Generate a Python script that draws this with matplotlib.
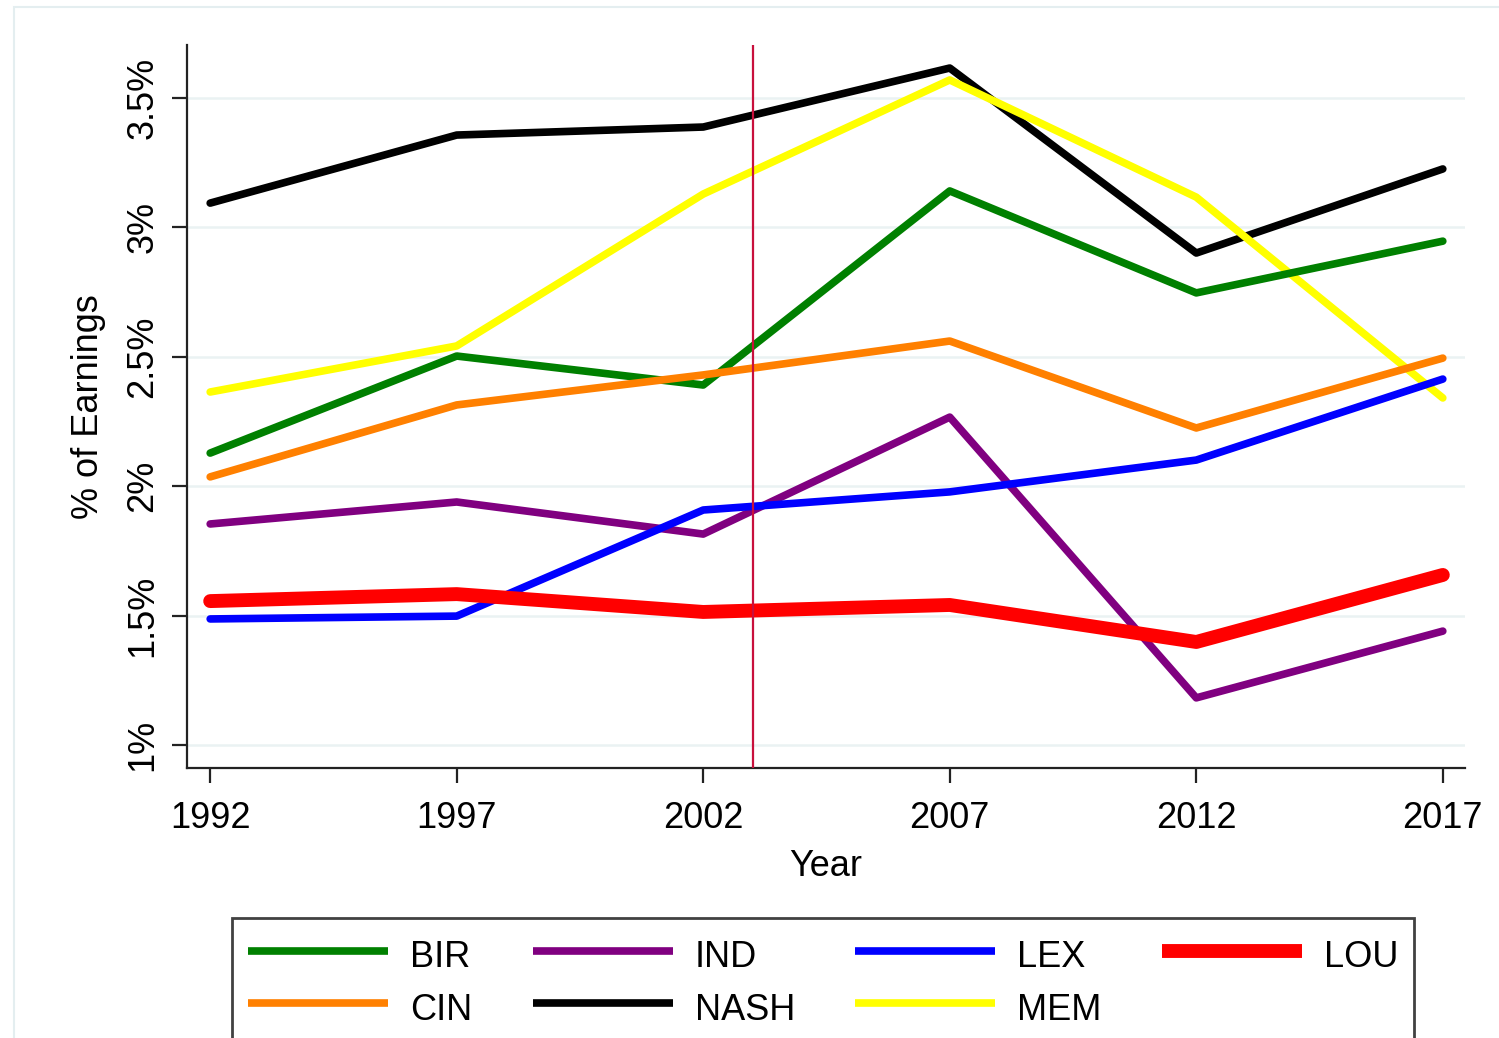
import matplotlib
matplotlib.use("Agg")
import matplotlib.pyplot as plt
from matplotlib.patches import Rectangle

plt.rcParams['font.family'] = ['Liberation Sans', 'DejaVu Sans']

years = [1992, 1997, 2002, 2007, 2012, 2017]
BIR = [2.128, 2.503, 2.391, 3.141, 2.747, 2.947]
IND = [1.854, 1.939, 1.815, 2.267, 1.182, 1.440]
LEX = [1.487, 1.498, 1.908, 1.978, 2.101, 2.414]
LOU = [1.556, 1.583, 1.514, 1.541, 1.398, 1.657]
CIN = [2.036, 2.314, 2.430, 2.561, 2.225, 2.495]
NASH = [3.094, 3.357, 3.388, 3.616, 2.901, 3.226]
MEM = [2.364, 2.542, 3.129, 3.570, 3.117, 2.341]

yticks = [1.0, 1.5, 2.0, 2.5, 3.0, 3.5]
ytick_labels = ["1%", "1.5%", "2%", "2.5%", "3%", "3.5%"]
event_year = 2003

W, H = 1499, 1038
fig = plt.figure(figsize=(W / 100, H / 100), dpi=100)
fig.patch.set_facecolor('white')

# faint outer frame
fig.add_artist(Rectangle((14 / W, -0.05), 1.1, 1 - 7 / H + 0.05, transform=fig.transFigure,
                         fill=False, edgecolor='#E4EEF0', linewidth=1.5))

ax = fig.add_axes([187 / W, 1 - 768 / H, (1465 - 187) / W, (768 - 45) / H])

ax.set_xlim(1991.53, 2017.45)
ax.set_ylim(0.911, 3.705)

for yv in yticks:
    ax.axhline(yv, color='#EAF2F3', lw=1.8, zorder=0)

lw = 5.5
series = [
    ("BIR", BIR, '#008000', lw),
    ("CIN", CIN, '#FF8000', lw),
    ("IND", IND, '#800080', lw),
    ("NASH", NASH, '#000000', lw),
    ("LEX", LEX, '#0000FF', lw),
    ("MEM", MEM, '#FFFF00', lw),
    ("LOU", LOU, '#FF0000', 10),
]
draw_order = ["NASH", "MEM", "BIR", "CIN", "IND", "LEX", "LOU"]
lines = {}
for name, vals, col, w in series:
    z = 3 + draw_order.index(name)
    ln, = ax.plot(years, vals, color=col, lw=w, solid_capstyle='round',
                  solid_joinstyle='round', label=name, zorder=z)
    lines[name] = ln

ax.axvline(event_year, color='#C8103C', lw=1.6, zorder=12)

for s in ['top', 'right']:
    ax.spines[s].set_visible(False)
for s in ['left', 'bottom']:
    ax.spines[s].set_linewidth(1.6)
    ax.spines[s].set_color('#222222')

fs = 26
ax.set_xticks(years)
ax.set_xticklabels([str(y) for y in years], fontsize=fs)
ax.set_yticks(yticks)
ax.set_yticklabels(ytick_labels, fontsize=fs, rotation=90, va='center')
ax.tick_params(axis='both', length=11, width=1.6, color='#222222')
ax.tick_params(axis='x', pad=13)
ax.tick_params(axis='y', pad=8)

ax.set_xlabel("Year", fontsize=fs, labelpad=9)
ax.set_ylabel("% of Earnings", fontsize=fs, labelpad=14)

handles = [lines[n] for n in ["BIR", "CIN", "IND", "NASH", "LEX", "MEM", "LOU"]]
leg = fig.legend(handles=handles, labels=[h.get_label() for h in handles],
                 ncol=4, loc='upper left', bbox_to_anchor=(232 / W, 1 - 918 / H),
                 fontsize=fs, frameon=True, fancybox=False, shadow=False,
                 handlelength=3.88, handletextpad=0.61, columnspacing=1.66,
                 handleheight=1.4,
                 labelspacing=0.3, borderpad=0.45, borderaxespad=0)
leg.get_frame().set_edgecolor('#111111')
leg.get_frame().set_linewidth(2)
for lh in leg.get_lines():
    lh.set_solid_capstyle('butt')

fig.savefig("out.png", dpi=100)
